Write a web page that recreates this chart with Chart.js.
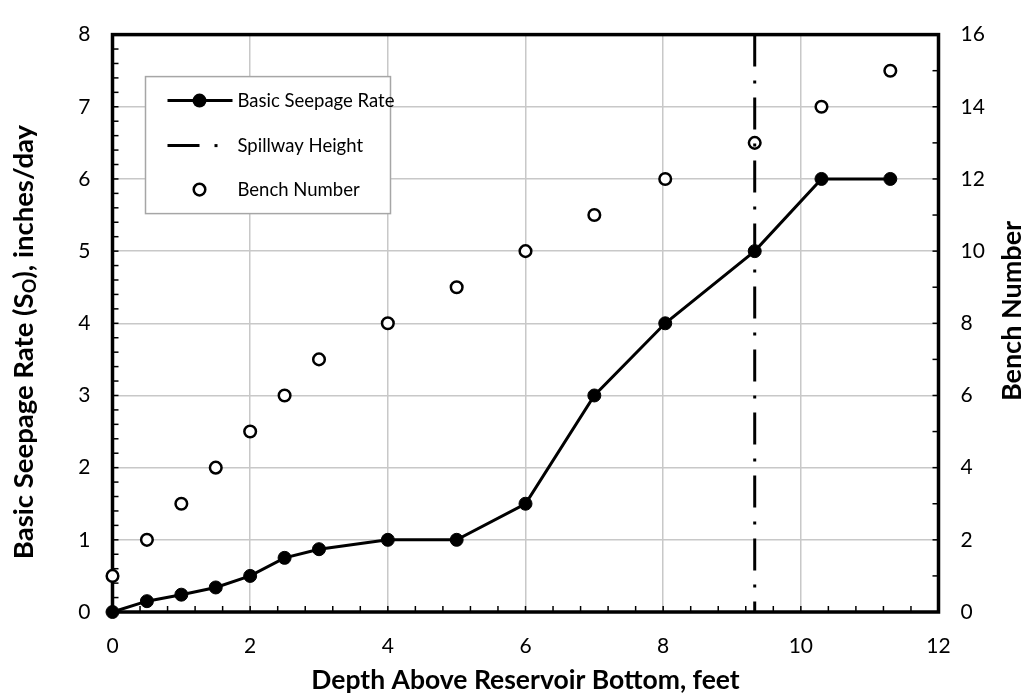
<!DOCTYPE html>
<html>
<head>
<meta charset="utf-8">
<script src="https://cdn.jsdelivr.net/npm/chart.js@4"></script>
<style>
  html, body { margin: 0; padding: 0; background: #fff; }
  #wrap { width: 1026px; height: 696px; }
</style>
</head>
<body>
<div id="wrap"><canvas id="myChart"></canvas></div>
<script>
// depth above bottom, ft
const depth = [0, 0.5, 1, 1.5, 2, 2.5, 3, 4, 5, 6, 7, 8.03, 9.33, 10.3, 11.3]
// basic seepage rate, in/day
const seepage = [0, 0.15, 0.24, 0.34, 0.5, 0.75, 0.87, 1, 1, 1.5, 3, 4, 5, 6, 6]
// bench number (right axis)
const bench = [1, 2, 3, 4, 5, 6, 7, 8, 9, 10, 11, 12, 13, 14, 15]
const spillwayX = 9.33
const spillwayY = [8, 0]

const xTicks = [0, 2, 4, 6, 8, 10, 12]
const yTicks = [0, 1, 2, 3, 4, 5, 6, 7, 8]
const y1Ticks = [0, 2, 4, 6, 8, 10, 12, 14, 16]

const FONT = "Lato, 'Open Sans', sans-serif"
const SPILL_DASH = [32, 14, 3, 14]

const pts = (xs, ys) => xs.map((x, i) => ({x: x, y: ys[i]}))

// frame, minor ticks, titles, legend
const framePlugin = {
  id: 'frame',
  beforeDatasetsDraw(chart) {
    const {ctx, chartArea: a, scales} = chart
    ctx.save()
    ctx.strokeStyle = '#000'
    ctx.lineWidth = 1.5
    const tk = 6
    for (let v = 0; v <= 12.001; v += 0.4) {
      const px = scales.x.getPixelForValue(v)
      ctx.beginPath(); ctx.moveTo(px, a.bottom); ctx.lineTo(px, a.bottom - tk); ctx.stroke()
    }
    for (let v = 0; v <= 8.001; v += 0.2) {
      const py = scales.y.getPixelForValue(v)
      ctx.beginPath(); ctx.moveTo(a.left, py); ctx.lineTo(a.left + tk, py); ctx.stroke()
    }
    for (let v = 0; v <= 16; v += 1) {
      const py = scales.y1.getPixelForValue(v)
      ctx.beginPath(); ctx.moveTo(a.right, py); ctx.lineTo(a.right - tk, py); ctx.stroke()
    }
    ctx.lineWidth = 3.5
    ctx.strokeRect(a.left, a.top, a.right - a.left, a.bottom - a.top)
    ctx.restore()
  },
  afterDraw(chart) {
    const {ctx, chartArea: a} = chart
    const big = 'bold 27.5px ' + FONT, small = 'bold 18px ' + FONT
    ctx.save()
    // left title with subscript
    ctx.translate(24, 342)
    ctx.rotate(-Math.PI / 2)
    ctx.fillStyle = '#000'
    ctx.textBaseline = 'middle'
    const parts = [['Basic Seepage Rate (S', big, 0], ['O', small, 6], ['), inches/day', big, 0]]
    let w = 0
    parts.forEach(p => { ctx.font = p[1]; w += ctx.measureText(p[0]).width })
    let x = -w / 2
    parts.forEach(p => {
      ctx.font = p[1]
      ctx.fillText(p[0], x, p[2])
      x += ctx.measureText(p[0]).width
    })
    ctx.restore()

    // right title
    ctx.save()
    ctx.translate(1012, 311)
    ctx.rotate(-Math.PI / 2)
    ctx.font = 'bold 27px ' + FONT
    ctx.textAlign = 'center'
    ctx.textBaseline = 'middle'
    ctx.fillStyle = '#000'
    ctx.fillText('Bench Number', 0, 0)
    ctx.restore()

    // legend box
    const lx = a.left + 33, ly = a.top + 42
    ctx.save()
    ctx.fillStyle = '#fff'
    ctx.fillRect(lx, ly, 245, 137)
    ctx.strokeStyle = '#a6a6a6'
    ctx.lineWidth = 1.5
    ctx.strokeRect(lx, ly, 245, 137)
    ctx.fillStyle = '#000'
    ctx.strokeStyle = '#000'
    ctx.font = '18.5px ' + FONT
    ctx.textBaseline = 'middle'
    const sx = lx + 22, mx = lx + 54, tx = lx + 92
    const r1 = ly + 24, r2 = ly + 69, r3 = ly + 113
    ctx.lineWidth = 3
    ctx.beginPath(); ctx.moveTo(sx, r1); ctx.lineTo(sx + 65, r1); ctx.stroke()
    ctx.beginPath(); ctx.arc(mx, r1, 7, 0, Math.PI * 2); ctx.fill()
    ctx.fillText('Basic Seepage Rate', tx, r1)
    ctx.beginPath(); ctx.moveTo(sx, r2); ctx.lineTo(sx + 32, r2); ctx.stroke()
    ctx.fillRect(sx + 47, r2 - 1.5, 3, 3)
    ctx.fillText('Spillway Height', tx, r2)
    ctx.lineWidth = 2.5
    ctx.beginPath(); ctx.arc(mx, r3, 5.8, 0, Math.PI * 2); ctx.stroke()
    ctx.fillText('Bench Number', tx, r3)
    ctx.restore()
  }
}

const ctx = document.getElementById('myChart')

new Chart(ctx, {
  type: 'scatter',
  data: {
    datasets: [
      {
        label: 'Basic Seepage Rate',
        data: pts(depth, seepage),
        showLine: true,
        borderColor: '#000',
        backgroundColor: '#000',
        borderWidth: 3,
        pointRadius: 6.5,
        pointBorderWidth: 1,
        yAxisID: 'y',
        clip: false
      },
      {
        label: 'Spillway Height',
        data: pts([spillwayX, spillwayX], spillwayY),
        showLine: true,
        borderColor: '#000',
        borderWidth: 3,
        borderDash: SPILL_DASH,
        pointRadius: 0,
        yAxisID: 'y'
      },
      {
        label: 'Bench Number',
        data: pts(depth, bench),
        showLine: false,
        borderColor: '#000',
        backgroundColor: '#fff',
        pointRadius: 5.8,
        pointBorderWidth: 2.5,
        yAxisID: 'y1',
        clip: false
      }
    ]
  },
  options: {
    responsive: true,
    maintainAspectRatio: false,
    animation: false,
    events: [],
    layout: { padding: { top: 15.5, left: 0, right: 0, bottom: 0 } },
    plugins: {
      legend: { display: false },
      tooltip: { enabled: false }
    },
    scales: {
      x: {
        type: 'linear',
        min: 0, max: 12,
        afterBuildTicks: s => { s.ticks = xTicks.map(v => ({value: v})) },
        afterFit: s => { s.height = 84 },
        grid: { color: '#c8c8c8', lineWidth: 1.5, drawTicks: false },
        border: { display: false },
        ticks: { color: '#000', padding: 22, font: { family: FONT, size: 21 } },
        title: {
          display: true,
          text: 'Depth Above Reservoir Bottom, feet',
          color: '#000',
          font: { family: FONT, size: 26.5, weight: 'bold' },
          padding: { top: 0, bottom: 0 }
        }
      },
      y: {
        type: 'linear',
        position: 'left',
        min: 0, max: 8,
        afterBuildTicks: s => { s.ticks = yTicks.map(v => ({value: v})) },
        afterFit: s => { s.width = 112.5 },
        grid: { color: '#c8c8c8', lineWidth: 1.5, drawTicks: false },
        border: { display: false },
        ticks: { color: '#000', padding: 22, font: { family: FONT, size: 21 } }
      },
      y1: {
        type: 'linear',
        position: 'right',
        min: 0, max: 16,
        afterBuildTicks: s => { s.ticks = y1Ticks.map(v => ({value: v})) },
        afterFit: s => { s.width = 87.5 },
        grid: { display: false, drawTicks: false },
        border: { display: false },
        ticks: { color: '#000', padding: 22, font: { family: FONT, size: 21 } }
      }
    }
  },
  plugins: [framePlugin]
})
</script>
</body>
</html>
